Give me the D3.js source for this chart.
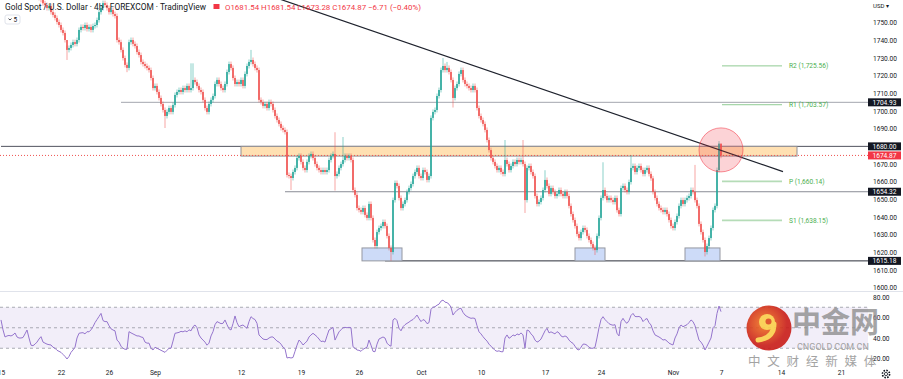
<!DOCTYPE html>
<html>
<head>
<meta charset="utf-8">
<script src="https://cdn.jsdelivr.net/npm/d3@7"></script>
<style>
  body { margin: 0; background: #fff; }
  svg { display: block; font-family: Roboto, "Liberation Sans", sans-serif; }
</style>
</head>
<body>
<svg id="chart" width="903" height="379"></svg>
<script>
// XAUUSD 4h, FOREXCOM //////////////////////

// close of every 4h bar, oldest first (open = previous close)
var closes = [
  1779,1777.5,1778.2,1776,1776.8,1774.5,1775.2,1773,1773.8,1771.5,
  1770,1770.8,1769,1769.6,1767.5,1768.2,1766.4,1767,1765.2,1764,
  1762.9,1761,1760,1758.3,1759.5,1756,1754.4,1752.7,1750.4,1748.7,
  1745.9,1744.2,1740.2,1734.6,1735.7,1737.4,1739,1738,1740.2,1745.9,
  1747.6,1747,1748.7,1746.4,1747.6,1745.9,1748.1,1748.7,1751.5,1756,
  1758.3,1761.1,1760,1758.3,1756,1757.2,1754.9,1753.8,1740.2,1739,
  1734.6,1730,1726.1,1724.4,1739,1740.2,1738,1736.8,1733.4,1731.7,
  1727.8,1726.6,1725.5,1724.4,1723.2,1718.7,1713,1714.2,1710.8,1707.4,
  1704,1700.6,1697.2,1699.5,1701.7,1699.5,1703.4,1709.1,1710.8,1711.9,
  1710.8,1713,1711.9,1714.2,1711.9,1713,1717.6,1716.4,1714.2,1711.9,
  1710.8,1706.3,1701.7,1699.5,1704,1706.3,1708.5,1715.3,1717.6,1715.3,
  1713,1711.9,1715.3,1722.1,1726.6,1724.4,1718.7,1715.3,1716.4,1715.3,
  1717.6,1714.2,1721,1725.5,1727.8,1728.9,1726.6,1724.4,1723.2,1706.3,
  1705.1,1702.9,1704,1701.7,1705.1,1704,1700.6,1697.2,1694.9,1692.7,
  1690.4,1689.3,1688.1,1663.8,1663.2,1662.1,1665.5,1667.8,1673.4,1674.6,
  1671.2,1667.8,1666.6,1671.2,1674.6,1675.7,1673.4,1670,1667.8,1666.6,
  1665.5,1666.6,1665.5,1666.6,1672.3,1674.6,1675.7,1663.2,1664.4,1667.8,
  1670,1672.3,1674.6,1673.4,1674.6,1672.3,1655.3,1652.5,1645.1,1644,
  1642.9,1645.1,1641.2,1639.5,1647.4,1639.5,1627,1623.6,1631.5,1633.8,
  1634.9,1637.2,1634.9,1629.3,1622.5,1620.2,1649.6,1659.3,1657.6,1650.8,
  1645.1,1647.4,1649.6,1654.2,1656.4,1658.7,1663.2,1665.5,1667.8,1663.2,
  1662.1,1666.6,1665.5,1661,1663.2,1696.1,1699.5,1700.6,1708.5,1711.9,
  1723.2,1725.5,1723.2,1724.4,1722.1,1717.6,1707.4,1713,1715.3,1721,
  1723.2,1717.6,1715.3,1714.2,1713,1711.9,1714.2,1711.9,1701.7,1697.2,
  1694.9,1692.7,1689.3,1683.6,1677.9,1673.4,1671.2,1668.9,1666.6,1667.8,
  1665.5,1664.4,1672.3,1670,1666.6,1668.9,1671.2,1670,1672.3,1671.2,
  1672.3,1670,1649.6,1667.8,1668.9,1665.5,1663.2,1651.9,1647.4,1648.5,
  1650.8,1655.3,1661,1657.6,1653.1,1656.4,1654.2,1651.9,1653.1,1655.3,
  1653.1,1651.9,1654.2,1651.9,1646.3,1641.7,1638.3,1634.9,1630.4,1628.1,
  1631.5,1633.8,1632.7,1629.3,1627,1624.7,1622.5,1621.3,1629.3,1639.5,
  1650.8,1655.3,1651.9,1649.6,1650.8,1649.6,1648.5,1650.8,1643.9,1641.7,
  1656.4,1657.6,1655.3,1654.2,1659.8,1667.8,1668.9,1665.5,1667.8,1668.9,
  1666.6,1664.4,1666.6,1667.8,1664.4,1661.9,1654.2,1650.8,1647.4,1645.1,
  1644,1642.9,1644,1641.7,1638.3,1634.9,1633.8,1637.2,1640.6,1646.3,
  1649.6,1647.4,1649.6,1650.8,1651.9,1655.3,1654.2,1649.6,1646.3,1636.1,
  1631.5,1627,1620.2,1623.6,1628.1,1633.8,1644,1646.3,1666.6,1681.54,
  1674.87
];

// bars whose wick reaches clearly further than usual: [bar, price]
var highs = [[33,1737],[95,1727],[96,1727],[125,1734.6],[167,1688],[171,1685.3],
  [221,1730],[223,1727.8],[252,1683.6],[261,1683.6],[272,1666.5],[301,1671],
  [315,1675],[347,1669.5],[359,1683],[360,1681.54]];
var lows = [[33,1728.9],[63,1722],[82,1690.4],[145,1655.3],[167,1655],[195,1615.2],
  [226,1702],[262,1642.3],[297,1618.5],[352,1617.7],[360,1673.28]];
var lastOHLC = 'O1681.54 H1681.54 L1673.28 C1674.87 \u22126.71 (\u22120.40%)';

// RSI(14), one value per bar
var rsi = [
  57.6,48,41,42,42.5,42,43,44.9,41,40,
  40,40.5,44,47.8,40,33,32.5,34,36,39,
  41.3,36,35,34,33.5,33.2,31,30,28,27,
  26,24,22,19.5,22,26,28.3,31,40,44.6,
  45,45.2,44,46.2,46,48,51,55,58,61,
  64,57,56,56,52,49,47.8,47,38,36,
  32,30,29,29,46.2,45,44,43,42,42,
  41,40.5,36,35,35,30,28.3,31,30,29,
  28,27,26,28,30,30,37,44.6,45,45.5,
  46.5,46,47,46,48,47,51,52.7,50,43,
  40,38,36,33,35,42,46.2,53,56,55,
  54,54.3,57.6,53,49,47.8,54,61.5,55,51,
  52,52.7,51,49.5,56,60.8,59,58,54.3,42.9,
  41,39,38.5,38.5,40,41,41,39,37,36,
  34,31,29.5,20.5,21,20.5,21,27,33,38,
  36,33.2,35,37,41,43,44.6,43,41.3,39,
  36.5,37,36,42,47.8,49,50.4,38,42,46,
  48,50,50.4,50,50.4,50,31.5,30,28.3,28,
  27,29,30,31,38,33,27,26.6,34,39,
  40,41,40,35,33,32,57.6,59.2,57,49.5,
  47,51,53,54.3,55.5,57,58,60,62.4,59,
  56,58,57,54,55,68,70,70.5,72,73,
  76,77,75,74.5,73,70,62.4,65,67,68.5,
  69,65,62.4,61,60,59.2,59.5,59,52,46,
  44,41.3,39,37,34,32,30,28,27,27.5,
  26.6,26.6,40,43,39.7,41,43,42,44,43,
  45,43,30,47.8,47,44,42,38,36,37,
  39,43,47,49.5,45,46,45,44,46.2,45,
  42,41,42,41,38,36,34.8,32,29,28.3,
  31,34,34,33,31,30,30,31,40,50,
  58,60.8,58,56,54,53,52.5,53,44.6,42,
  56,59.2,56,54.3,57,62,64,61,60.8,61,
  60,56,58,59,55,52.7,47,43,42,41,
  39.7,38,38.5,37,35,34,33.2,40,44,50,
  52.7,51,52,53,55,57.6,56,52,45,38,
  36,33,28.3,32,36,40,50,52,64,71.2,
  65.7
];

// time axis: bar index where each label sits
var dateLabels = ['15','22','26','Sep','12','19','26','Oct','10','17','24','Nov','7','14','21'];
var dateBars   = [0, 30, 54, 77, 120, 150, 179, 210, 240, 272, 300, 336, 360, 390, 420];

var priceTicks = d3.range(1600, 1751, 10);
var rsiTicks = [80, 60, 40, 20];
var rsiBands = [70, 50, 30];

// drawings
var levelPrices = [1704.93, 1680.00, 1654.32, 1615.18];
var levelFrom   = [60, 0, 142, 192];
var levelTone   = ['#a3a6af', '#50535e', '#8a8d96', '#2a2e39'];
var trendBars   = [139, 391];
var trendPrices = [1763.5, 1665.7];
var zoneBars    = [120, 398];
var zonePrices  = [1680, 1674.5];
var supportBars = [[180.5, 200.5], [287, 302], [342, 359.5]];
var supportPrices = [1622.5, 1615.18];
var pivotNames  = ['R2', 'R1', 'P', 'S1'];
var pivotValues = [1725.56, 1703.57, 1660.14, 1638.15];
var pivotBars   = [360.5, 390.5];
var circleBar = 360, circlePrice = 1678;

///////////////////////////////////////////////////////////////////////////////

var W = 903, H = 379;
var axisX = 868;
var up = '#26a69a', down = '#ef5350';

var svg = d3.select('#chart');

var x = d3.scaleLinear().domain([0, 360]).range([1, 721]);
var y = d3.scaleLinear().domain([1600, 1750]).range([287.7, 22.7]);
var yr = d3.scaleLinear().domain([20, 80]).range([358.5, 297]);

var fmt2 = d3.format('.2f');
var fmtPivot = d3.format(',.2f');

var defs = svg.append('defs');
defs.append('clipPath').attr('id', 'pane')
  .append('rect').attr('width', axisX).attr('height', 291);

var pane = svg.append('g').attr('clip-path', 'url(#pane)');

// horizontal levels
levelPrices.forEach(function(p, i) {
  pane.append('line')
    .attr('x1', x(levelFrom[i])).attr('x2', axisX)
    .attr('y1', y(p)).attr('y2', y(p))
    .style('stroke', levelTone[i]).style('stroke-width', 1);
});

// resistance zone
pane.append('rect')
  .attr('x', x(zoneBars[0])).attr('width', x(zoneBars[1]) - x(zoneBars[0]))
  .attr('y', y(zonePrices[0])).attr('height', y(zonePrices[1]) - y(zonePrices[0]))
  .style('fill', '#ffe0b2').style('stroke', '#8f8f95').style('stroke-width', 1);

// support boxes
supportBars.forEach(function(b) {
  pane.append('rect')
    .attr('x', x(b[0])).attr('width', x(b[1]) - x(b[0]))
    .attr('y', y(supportPrices[0])).attr('height', y(supportPrices[1]) - y(supportPrices[0]))
    .style('fill', '#cddbf8').style('stroke', '#9598a1').style('stroke-width', 1);
});

// last price line
pane.append('line')
  .attr('x1', 0).attr('x2', axisX)
  .attr('y1', y(closes[closes.length - 1])).attr('y2', y(closes[closes.length - 1]))
  .style('stroke', '#ef5350').style('stroke-width', 1).style('stroke-dasharray', '1,2');

// pivots
pivotValues.forEach(function(v, i) {
  var thick = i >= 2;
  pane.append('line')
    .attr('x1', x(pivotBars[0])).attr('x2', x(pivotBars[1]))
    .attr('y1', y(v)).attr('y2', y(v))
    .style('stroke', thick ? '#b5dcb7' : '#8fcb92')
    .style('stroke-width', thick ? 1.8 : 1);
  pane.append('text')
    .attr('x', x(pivotBars[1]) + 7).attr('y', y(v)).attr('dy', '0.35em')
    .style('font-size', '6.6px').style('fill', '#4caf50')
    .text(pivotNames[i] + ' (' + fmtPivot(v) + ')');
});

// candles
var hiMap = new Map(highs), loMap = new Map(lows);
var bars = closes.map(function(c, i) {
  var o = i ? closes[i - 1] : c + 1.5;
  var top = Math.max(o, c), bot = Math.min(o, c);
  return {
    i: i, o: o, c: c,
    h: hiMap.has(i) ? hiMap.get(i) : top + 1.4,
    l: loMap.has(i) ? loMap.get(i) : bot - 1.4
  };
});

var candle = pane.append('g').selectAll('g')
  .data(bars)
  .enter().append('g');

candle.append('rect')
  .attr('x', function(d){ return x(d.i) - 0.35; })
  .attr('width', 0.7)
  .attr('y', function(d){ return y(d.h); })
  .attr('height', function(d){ return y(d.l) - y(d.h); })
  .style('fill', function(d){ return d.c >= d.o ? up : down; })
  .style('opacity', 0.75);

candle.append('rect')
  .attr('x', function(d){ return x(d.i) - 0.8; })
  .attr('width', 1.6)
  .attr('y', function(d){ return y(Math.max(d.o, d.c)); })
  .attr('height', function(d){ return Math.max(0.8, Math.abs(y(d.o) - y(d.c))); })
  .style('fill', function(d){ return d.c >= d.o ? up : down; });

// trend line
pane.append('line')
  .attr('x1', x(trendBars[0])).attr('y1', y(trendPrices[0]))
  .attr('x2', x(trendBars[1])).attr('y2', y(trendPrices[1]))
  .style('stroke', '#1e222d').style('stroke-width', 1.2);

// highlight circle
pane.append('circle')
  .attr('cx', x(circleBar)).attr('cy', y(circlePrice)).attr('r', 22)
  .style('fill', 'rgba(242,54,69,0.22)')
  .style('stroke', 'rgba(242,54,69,0.55)').style('stroke-width', 1);

// RSI pane ///////////////////////////////////////////////////////////////////

svg.append('line')
  .attr('x1', 0).attr('x2', W).attr('y1', 291.5).attr('y2', 291.5)
  .style('stroke', '#e0e3eb');

svg.append('rect')
  .attr('x', 0).attr('width', axisX)
  .attr('y', yr(70)).attr('height', yr(30) - yr(70))
  .style('fill', 'rgba(126,87,194,0.1)');

svg.append('g').selectAll('line')
  .data(rsiBands)
  .enter().append('line')
  .attr('x1', 0).attr('x2', axisX)
  .attr('y1', function(d){ return yr(d); }).attr('y2', function(d){ return yr(d); })
  .style('stroke', '#9598a1').style('stroke-width', 0.8).style('stroke-dasharray', '3,3');

svg.append('path')
  .datum(rsi)
  .attr('d', d3.line().x(function(d, i){ return x(i); }).y(function(d){ return yr(d); }))
  .style('fill', 'none').style('stroke', '#9575cd').style('stroke-width', 1);

// axes ///////////////////////////////////////////////////////////////////////

function styleAxis(g) {
  g.select('.domain').remove();
  g.selectAll('text').style('font-size', '6.6px').style('fill', '#131722')
    .style('font-family', 'Roboto, sans-serif');
}

svg.append('g').attr('transform', 'translate(' + axisX + ',0)')
  .call(d3.axisRight(y).tickValues(priceTicks).tickSize(0).tickPadding(5).tickFormat(fmt2))
  .call(styleAxis);

svg.append('g').attr('transform', 'translate(' + axisX + ',0)')
  .call(d3.axisRight(yr).tickValues(rsiTicks).tickSize(0).tickPadding(5).tickFormat(fmt2))
  .call(styleAxis);

svg.append('g').attr('transform', 'translate(0,368)')
  .call(d3.axisBottom(x).tickValues(dateBars).tickSize(0).tickPadding(2)
    .tickFormat(function(d, i){ return dateLabels[i]; }))
  .call(styleAxis);

// price badges
var badges = levelPrices.map(function(p){ return { p: p, fill: '#131722' }; });
badges.push({ p: closes[closes.length - 1], fill: '#f23645' });

var badge = svg.append('g').selectAll('g')
  .data(badges)
  .enter().append('g')
  .attr('transform', function(d){ return 'translate(' + axisX + ',' + y(d.p) + ')'; });

badge.append('rect')
  .attr('x', 0).attr('y', -4).attr('width', 33).attr('height', 8)
  .style('fill', function(d){ return d.fill; });

badge.append('text')
  .attr('x', 16.5).attr('dy', '0.35em')
  .style('text-anchor', 'middle').style('font-size', '6.6px').style('fill', '#fff')
  .text(function(d){ return fmt2(d.p); });

svg.append('text')
  .attr('x', 873).attr('y', 7.5)
  .style('font-size', '6px').style('fill', '#131722')
  .text('USD \u25BE');

// legend /////////////////////////////////////////////////////////////////////

svg.append('text')
  .attr('x', 5).attr('y', 10)
  .style('font-size', '8.4px').style('fill', '#131722')
  .text('Gold Spot / U.S. Dollar \u00B7 4h \u00B7 FOREXCOM \u00B7 TradingView');

svg.append('rect')
  .attr('x', 213.5).attr('y', 4).attr('width', 6).attr('height', 5)
  .style('fill', '#f23645');

svg.append('text')
  .attr('x', 225).attr('y', 10)
  .style('font-size', '7.9px').style('fill', '#f23645')
  .text(lastOHLC);

svg.append('rect')
  .attr('x', 5).attr('y', 15).attr('width', 15).attr('height', 9)
  .attr('rx', 2).attr('ry', 2)
  .style('fill', '#fff').style('stroke', '#e0e3eb');

svg.append('path')
  .attr('d', 'M8.5,18.6 L10,20 L11.5,18.6')
  .style('fill', 'none').style('stroke', '#131722').style('stroke-width', 0.8);

svg.append('text')
  .attr('x', 13.5).attr('y', 22).style('font-size', '6.5px').style('fill', '#131722')
  .text('5');

// settings gear
var gear = svg.append('g').attr('transform', 'translate(886,374)');
gear.append('circle').attr('r', 3.6)
  .style('fill', 'none').style('stroke', '#131722').style('stroke-width', 1.6)
  .style('stroke-dasharray', '1.6,1.2');
gear.append('circle').attr('r', 1.6)
  .style('fill', 'none').style('stroke', '#131722').style('stroke-width', 0.8);

// watermark //////////////////////////////////////////////////////////////////

var logo = svg.append('g').style('opacity', 0.9);
var grad = defs.append('radialGradient').attr('id', 'logoGrad')
  .attr('cx', '40%').attr('cy', '40%');
grad.append('stop').attr('offset', '0%').style('stop-color', '#f47b22');
grad.append('stop').attr('offset', '100%').style('stop-color', '#c91d19');

logo.append('circle').attr('cx', 769).attr('cy', 328).attr('r', 22.5)
  .style('fill', 'url(#logoGrad)');
logo.append('path')
  .attr('d', 'M774,324 Q774,338 758,340')
  .style('fill', 'none').style('stroke', '#fbcf4a').style('stroke-width', 5)
  .style('stroke-linecap', 'round');
logo.append('circle').attr('cx', 767).attr('cy', 322).attr('r', 8)
  .style('fill', '#fbcf4a');
logo.append('circle').attr('cx', 768.5).attr('cy', 321.5).attr('r', 3)
  .style('fill', '#dd4a1c');

svg.append('text')
  .attr('x', 792).attr('y', 333)
  .style('font-family', '"Noto Sans CJK SC", sans-serif')
  .style('font-size', '29px').style('font-weight', 700)
  .style('fill', '#8f8f8f').style('opacity', 0.8)
  .text('中金网');

svg.append('text')
  .attr('x', 797).attr('y', 349.5)
  .style('font-size', '9px').style('fill', '#9a9a9a').style('opacity', 0.9)
  .text('CNGOLD.COM.CN');

svg.append('text')
  .attr('x', 748).attr('y', 366)
  .style('font-family', '"Noto Sans CJK SC", sans-serif')
  .style('font-size', '12.5px').style('letter-spacing', '6.8px')
  .style('fill', '#9a9a9a').style('opacity', 0.9)
  .text('中文财经新媒体');
</script>
</body>
</html>
